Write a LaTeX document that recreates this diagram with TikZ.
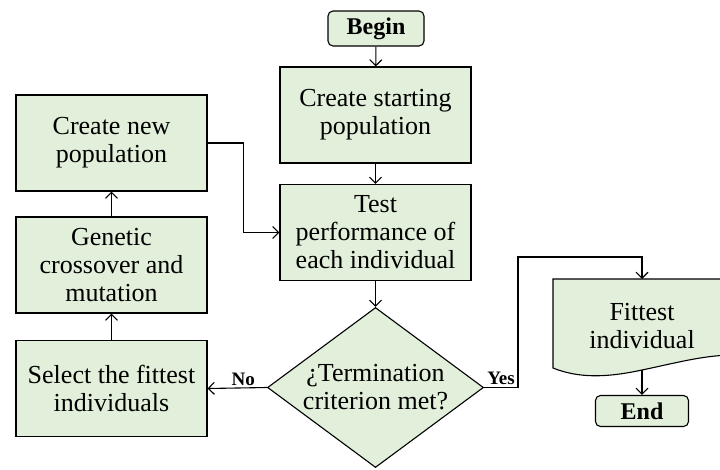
\documentclass[tikz,border=0pt]{standalone}
\usepackage{fontspec}
\setmainfont{Liberation Serif}
\usetikzlibrary{arrows.meta,shapes.geometric}
\definecolor{boxfill}{HTML}{E2EFDA}
\begin{document}
\begin{tikzpicture}[x=1pt,y=-1pt,
  line width=1.1pt,
  box/.style={draw, fill=boxfill, minimum width=191pt, minimum height=96pt, inner sep=0pt, align=center, font=\fontsize{26}{28}\selectfont},
  term/.style={draw, fill=boxfill, rounded corners=5pt, inner sep=0pt, font=\bfseries\fontsize{24}{26}\selectfont},
  txt/.style={align=center, inner sep=0pt, font=\fontsize{26}{28}\selectfont},
  arr/.style={-{Straight Barb[length=6pt,width=12pt]}},
  lbl/.style={font=\bfseries\fontsize{19}{21}\selectfont, inner sep=2pt}]
\clip (0,0) rectangle (720,469);
\fill[white] (0,0) rectangle (720,469);
% nodes
\node[term, minimum width=96pt, minimum height=35pt] (begin) at (376,28.5) {Begin};
\node[box] (start) at (375.5,115) {Create starting\\population};
\node[box] (test) at (375.5,232.5) {Test\\performance of\\each individual};
\node[diamond, draw, fill=boxfill, minimum width=216pt, minimum height=160pt, inner sep=0pt] (dec) at (375.5,387.5) {};
\node[txt] (dectext) at (dec.center) {¿Termination\\criterion met?};
\node[box] (newpop) at (111.5,143) {Create new\\population};
\node[box] (gen) at (111.5,265) {Genetic\\crossover and\\mutation};
\node[box] (sel) at (111.5,388.5) {Select the fittest\\individuals};
% document shape
\draw[fill=boxfill] (735,279) -- (553,279) -- (553,368)
  .. controls (578,378) and (605,378) .. (642,370)
  .. controls (680,362) and (705,355) .. (735,355);
\node[txt] (fit) at (642,326) {Fittest\\individual};
\coordinate (fittop) at (642,279);
\coordinate (fitbot) at (642,370);
\node[term, minimum width=93pt, minimum height=31pt] (end) at (642,411) {End};
\coordinate (yturn) at (518,257);
% connectors
\draw[arr] (begin) -- (start);
\draw[arr] (start) -- (test);
\draw[arr] (test) -- (dec.north);
\draw[arr] (dec.west) -- node[lbl, above, pos=0.4] {No} (sel.east);
\draw[arr] (sel) -- (gen);
\draw[arr] (gen) -- (newpop);
\draw[arr] (newpop.east) -- ++(36,0) |- (test.west);
\draw[arr] (dec.east) -| node[lbl, above, pos=0.25] {Yes} (yturn) -| (fittop);
\draw[arr] (fitbot) -- (end);
\end{tikzpicture}
\end{document}
